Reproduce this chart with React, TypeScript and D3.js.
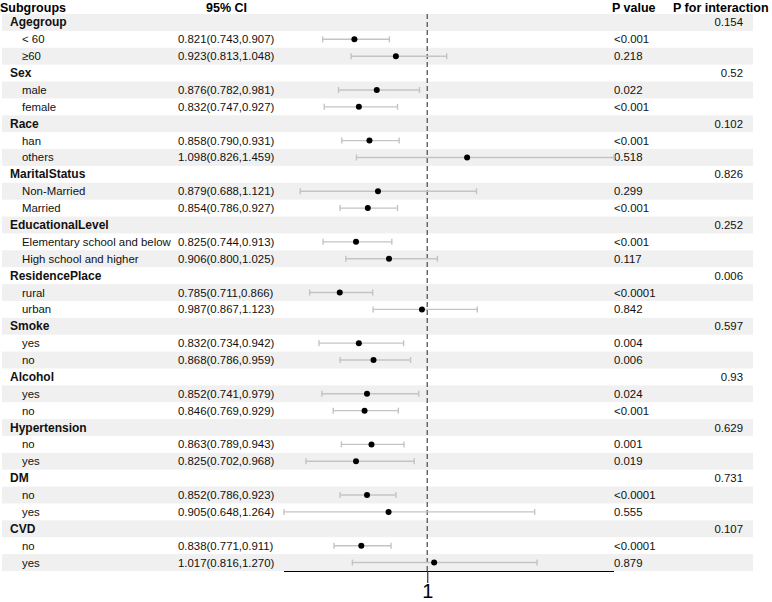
import { useEffect, useRef } from 'react'
import * as d3 from 'd3'

const groupNames = ['Agegroup', 'Sex', 'Race', 'MaritalStatus', 'EducationalLevel', 'ResidencePlace', 'Smoke', 'Alcohol', 'Hypertension', 'DM', 'CVD']
const pInteraction = ['0.154', '0.52', '0.102', '0.826', '0.252', '0.006', '0.597', '0.93', '0.629', '0.731', '0.107']

const subNames = [
  '< 60', '≥60',
  'male', 'female',
  'han', 'others',
  'Non-Married', 'Married',
  'Elementary school and below', 'High school and higher',
  'rural', 'urban',
  'yes', 'no',
  'yes', 'no',
  'no', 'yes',
  'no', 'yes',
  'no', 'yes',
]
const orValues = [0.821, 0.923, 0.876, 0.832, 0.858, 1.098, 0.879, 0.854, 0.825, 0.906, 0.785, 0.987, 0.832, 0.868, 0.852, 0.846, 0.863, 0.825, 0.852, 0.905, 0.838, 1.017]
const lowerValues = [0.743, 0.813, 0.782, 0.747, 0.790, 0.826, 0.688, 0.786, 0.744, 0.800, 0.711, 0.867, 0.734, 0.786, 0.741, 0.769, 0.789, 0.702, 0.786, 0.648, 0.771, 0.816]
const upperValues = [0.907, 1.048, 0.981, 0.927, 0.931, 1.459, 1.121, 0.927, 0.913, 1.025, 0.866, 1.123, 0.942, 0.959, 0.979, 0.929, 0.943, 0.968, 0.923, 1.264, 0.911, 1.270]
const pValues = ['<0.001', '0.218', '0.022', '<0.001', '<0.001', '0.518', '0.299', '<0.001', '<0.001', '0.117', '<0.0001', '0.842', '0.004', '0.006', '0.024', '<0.001', '0.001', '0.019', '<0.0001', '0.555', '<0.0001', '0.879']
const xTicks = [1]

type Row = { kind: 'group' | 'sub'; label: string; i: number }

export default function App() {
  const svgRef = useRef<SVGSVGElement>(null)

  useEffect(() => {
    if (!svgRef.current) return
    const width = 772
    const height = 602
    const font = '"Liberation Sans", Arial, sans-serif'
    const fs = 11.4

    const svg = d3.select(svgRef.current)
    svg.selectAll('*').remove()

    const rows: Row[] = []
    groupNames.forEach((g, gi) => {
      rows.push({ kind: 'group', label: g, i: gi })
      rows.push({ kind: 'sub', label: subNames[gi * 2], i: gi * 2 })
      rows.push({ kind: 'sub', label: subNames[gi * 2 + 1], i: gi * 2 + 1 })
    })

    const y = d3.scaleBand<number>().domain(rows.map((_, i) => i)).range([14, 571]).padding(0)
    const x = d3.scaleLinear()
      .domain([d3.min(lowerValues)!, d3.max(upperValues)!])
      .range([284, 614])
    const yc = (i: number) => y(i)! + y.bandwidth() / 2

    // zebra bands
    svg.append('g').selectAll('rect').data(rows.map((_, i) => i).filter(i => i % 2 === 0))
      .join('rect')
      .attr('x', 2).attr('width', 751)
      .attr('y', d => y(d)!).attr('height', y.bandwidth())
      .attr('fill', '#f0f0f0')

    // headers
    const hdr = svg.append('g').attr('font-family', font).attr('font-size', 12.5).attr('font-weight', 'bold').attr('fill', '#000')
    hdr.append('text').attr('x', 0).attr('y', 12).text('Subgroups')
    hdr.append('text').attr('x', 206).attr('y', 12).text('95% CI')
    hdr.append('text').attr('x', 612).attr('y', 12).text('P value')
    hdr.append('text').attr('x', 673).attr('y', 12).text('P for interaction')

    // text columns
    const txt = svg.append('g').attr('font-family', font).attr('font-size', fs).attr('fill', '#111')
    rows.forEach((r, ri) => {
      const cy = yc(ri) + 4
      if (r.kind === 'group') {
        txt.append('text').attr('x', 10).attr('y', cy).attr('font-weight', 'bold').attr('font-size', 12).text(r.label)
        txt.append('text').attr('x', 743).attr('y', cy).attr('text-anchor', 'end').text(pInteraction[r.i])
      } else {
        txt.append('text').attr('x', 22).attr('y', cy).text(r.label)
        txt.append('text').attr('x', 178).attr('y', cy)
          .text(`${orValues[r.i].toFixed(3)}(${lowerValues[r.i].toFixed(3)},${upperValues[r.i].toFixed(3)})`)
        txt.append('text').attr('x', 614).attr('y', cy).text(pValues[r.i])
      }
    })

    // reference line
    svg.append('line')
      .attr('x1', x(1)).attr('x2', x(1)).attr('y1', 14).attr('y2', 571)
      .attr('stroke', '#555').attr('stroke-width', 1.3).attr('stroke-dasharray', '5,3')

    // error bars
    const subRows = rows.map((r, ri) => ({ ...r, ri })).filter(r => r.kind === 'sub')
    const eb = svg.append('g').attr('stroke', '#c4c4c4').attr('stroke-width', 1.4)
    subRows.forEach(r => {
      const cy = yc(r.ri)
      eb.append('line').attr('x1', x(lowerValues[r.i])).attr('x2', x(upperValues[r.i])).attr('y1', cy).attr('y2', cy)
      eb.append('line').attr('x1', x(lowerValues[r.i])).attr('x2', x(lowerValues[r.i])).attr('y1', cy - 3).attr('y2', cy + 3)
      eb.append('line').attr('x1', x(upperValues[r.i])).attr('x2', x(upperValues[r.i])).attr('y1', cy - 3).attr('y2', cy + 3)
    })
    svg.append('g').selectAll('circle').data(subRows).join('circle')
      .attr('cx', d => x(orValues[d.i])).attr('cy', d => yc(d.ri)).attr('r', 3)
      .attr('fill', '#000')

    // axis
    const axis = svg.append('g').attr('transform', 'translate(0,571)')
      .call(d3.axisBottom(x).tickValues(xTicks).tickFormat(d3.format('d')).tickSize(12).tickPadding(1))
    axis.select('.domain').attr('stroke', '#000').attr('d', `M${x.range()[0]},0.5H${x.range()[1]}`)
    axis.selectAll('.tick line').attr('stroke', '#333').attr('stroke-width', 1.2)
    axis.selectAll('.tick text').attr('font-family', font).attr('font-size', 20).attr('fill', '#000')

    svg.attr('width', width).attr('height', height)
  }, [])

  return <svg ref={svgRef} width={772} height={602} style={{ position: 'absolute', left: 0, top: 0, background: '#fff' }} />
}
